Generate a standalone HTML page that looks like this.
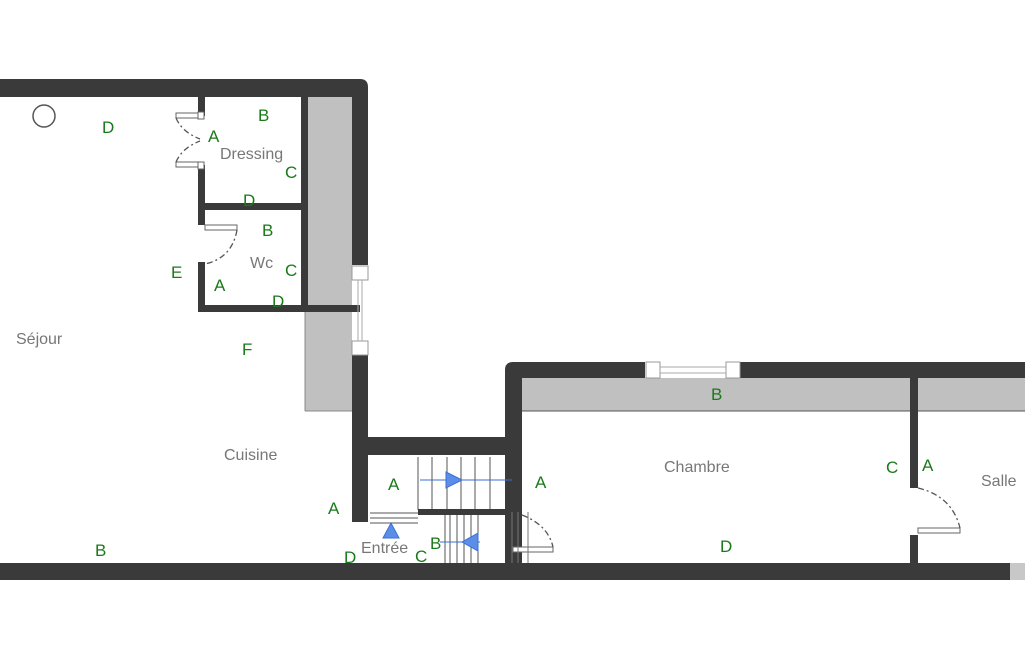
<!DOCTYPE html>
<html><head><meta charset="utf-8"><style>
body{margin:0;background:#fff;width:1025px;height:650px;overflow:hidden}
svg text{font-family:"Liberation Sans",sans-serif}
.g{fill:#1a7a1a;font-size:17px}
.r{fill:#777;font-size:16px}
</style></head><body>
<svg width="1025" height="650" viewBox="0 0 1025 650" xmlns="http://www.w3.org/2000/svg">
<!-- gray strips -->
<rect x="305" y="97" width="47" height="314" fill="#c0c0c0"/>
<line x1="305" y1="411" x2="352" y2="411" stroke="#888"/>
<line x1="305" y1="312" x2="305" y2="411" stroke="#888"/>
<rect x="522" y="378" width="503" height="33" fill="#c0c0c0"/>
<line x1="522" y1="411" x2="1025" y2="411" stroke="#555"/>
<g fill="#3a3a3a">
<!-- top wall left -->
<path d="M0 79 H360 Q368 79 368 87 V265 H352 V97 H0 Z"/>
<rect x="352" y="355" width="16" height="167"/>
<rect x="352" y="437" width="170" height="18"/>
<path d="M505 580 V370 Q505 362 513 362 H645 V378 H522 V580 Z"/>
<rect x="740" y="362" width="285" height="16"/>
<rect x="0" y="563" width="1010" height="17"/>
<!-- dressing/wc walls -->
<rect x="198" y="97" width="7" height="19"/>
<rect x="198" y="165" width="7" height="60"/>
<rect x="198" y="203" width="107" height="7"/>
<rect x="198" y="262" width="7" height="50"/>
<rect x="198" y="305" width="162" height="7"/>
<rect x="301" y="97" width="7" height="215"/>
<!-- right partition -->
<rect x="910" y="378" width="8" height="110"/>
<rect x="910" y="535" width="8" height="30"/>
<rect x="505" y="548" width="15" height="15"/>
</g>
<rect x="1010" y="563" width="15" height="17" fill="#c8c8c8"/>
<!-- windows -->
<g fill="#fff" stroke="#999">
<rect x="352" y="266" width="16" height="14"/><rect x="352" y="341" width="16" height="14"/>
<rect x="646" y="362" width="14" height="16"/><rect x="726" y="362" width="14" height="16"/>
</g>
<line x1="358" y1="280" x2="358" y2="341" stroke="#aaa"/><line x1="362" y1="280" x2="362" y2="341" stroke="#aaa"/>
<line x1="660" y1="367" x2="726" y2="367" stroke="#aaa"/><line x1="660" y1="373" x2="726" y2="373" stroke="#aaa"/>
<!-- doors -->
<g fill="#fff" stroke="#666">
<rect x="176" y="113" width="27" height="5"/><rect x="176" y="162" width="27" height="5"/>
<rect x="198" y="112" width="6" height="7"/><rect x="198" y="162" width="6" height="7"/>
<rect x="205" y="225" width="32" height="5"/>
<rect x="918" y="528" width="42" height="5"/>
<rect x="513" y="547" width="40" height="5"/>
</g>
<g fill="none" stroke="#555" stroke-dasharray="6 3 2 3" stroke-width="1.3">
<path d="M176 118 Q182 132 200 139"/><path d="M176 162 Q182 148 200 141"/>
<path d="M237 230 Q232 258 205 264"/>
<path d="M918 488 Q952 496 960 528"/>
<path d="M522 515 Q548 525 553 547"/>
</g>
<g stroke="#777"><line x1="512" y1="512" x2="512" y2="563"/><line x1="518" y1="512" x2="518" y2="563"/><line x1="528" y1="512" x2="528" y2="563"/></g>
<circle cx="44" cy="116" r="11" fill="none" stroke="#555" stroke-width="1.5"/>
<!-- stairs -->
<g stroke="#555" stroke-width="1">
<line x1="418" y1="457" x2="418" y2="510"/><line x1="432" y1="457" x2="432" y2="510"/>
<line x1="447" y1="457" x2="447" y2="510"/><line x1="461" y1="457" x2="461" y2="510"/>
<line x1="475" y1="457" x2="475" y2="510"/><line x1="490" y1="457" x2="490" y2="510"/>
<line x1="445" y1="515" x2="445" y2="563"/><line x1="450" y1="515" x2="450" y2="563"/>
<line x1="457" y1="515" x2="457" y2="563"/><line x1="464" y1="515" x2="464" y2="563"/>
<line x1="471" y1="515" x2="471" y2="563"/><line x1="478" y1="515" x2="478" y2="563"/>
<line x1="370" y1="513" x2="418" y2="513"/><line x1="370" y1="518" x2="418" y2="518"/><line x1="370" y1="523" x2="418" y2="523"/>
</g>
<rect x="418" y="509" width="92" height="6" fill="#3a3a3a"/>
<g stroke="#3b6fd6" fill="#5b8ee6">
<line x1="420" y1="480" x2="512" y2="480"/><polygon points="446,472 462,480 446,488"/>
<line x1="440" y1="542" x2="480" y2="542"/><polygon points="478,533 462,542 478,551"/>
<polygon points="383,538 391,523 399,538"/>
</g>
<!-- room labels -->
<text class="r" x="16" y="344">Séjour</text>
<text class="r" x="224" y="460">Cuisine</text>
<text class="r" x="220" y="159">Dressing</text>
<text class="r" x="250" y="268">Wc</text>
<text class="r" x="361" y="553" font-size="15">Entrée</text>
<text class="r" x="664" y="472">Chambre</text>
<text class="r" x="981" y="486">Salle</text>
<!-- letters -->
<text class="g" x="102" y="133">D</text>
<text class="g" x="258" y="121">B</text>
<text class="g" x="208" y="142">A</text>
<text class="g" x="285" y="178">C</text>
<text class="g" x="243" y="206">D</text>
<text class="g" x="262" y="236">B</text>
<text class="g" x="285" y="276">C</text>
<text class="g" x="171" y="278">E</text>
<text class="g" x="214" y="291">A</text>
<text class="g" x="272" y="307">D</text>
<text class="g" x="242" y="355">F</text>
<text class="g" x="328" y="514">A</text>
<text class="g" x="95" y="556">B</text>
<text class="g" x="344" y="563">D</text>
<text class="g" x="388" y="490">A</text>
<text class="g" x="535" y="488">A</text>
<text class="g" x="430" y="549">B</text>
<text class="g" x="415" y="562">C</text>
<text class="g" x="711" y="400">B</text>
<text class="g" x="720" y="552">D</text>
<text class="g" x="886" y="473">C</text>
<text class="g" x="922" y="471">A</text>
</svg>
</body></html>
